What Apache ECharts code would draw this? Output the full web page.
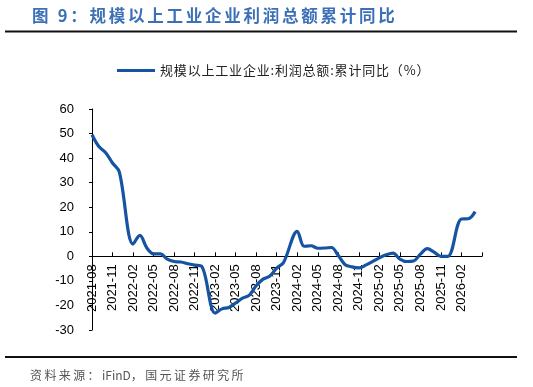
<!DOCTYPE html>
<html>
<head>
<meta charset="utf-8">
<script src="https://cdn.jsdelivr.net/npm/echarts@6/dist/echarts.min.js"></script>
<style>html,body{margin:0;padding:0;background:#fff;}#c{width:533px;height:387px;}</style>
</head>
<body>
<div id="c"></div>
<script>
var titleText = '图 9：规模以上工业企业利润总额累计同比';
var seriesName = '规模以上工业企业:利润总额:累计同比（%）';
var sourceText = '资料来源：iFinD，国元证券研究所';

var months = [
 '2021-08','2021-09','2021-10','2021-11','2021-12',
 '2022-01','2022-02','2022-03','2022-04','2022-05','2022-06','2022-07','2022-08','2022-09','2022-10','2022-11','2022-12',
 '2023-01','2023-02','2023-03','2023-04','2023-05','2023-06','2023-07','2023-08','2023-09','2023-10','2023-11','2023-12',
 '2024-01','2024-02','2024-03','2024-04','2024-05','2024-06','2024-07','2024-08','2024-09','2024-10','2024-11','2024-12',
 '2025-01','2025-02','2025-03','2025-04','2025-05','2025-06','2025-07','2025-08','2025-09','2025-10','2025-11','2025-12',
 '2026-01','2026-02','2026-03','2026-04','2026-05'
];

var profitYoY = [
 49.5, 44.7, 42.2, 38.0, 34.3,
 null, 5.0, 8.5, 3.5, 1.0, 1.0, -1.1, -2.1, -2.3, -3.0, -3.6, -4.0,
 null, -23.1, -21.4, -20.8, -19.0, -17.0, -15.8, -12.0, -9.3, -8.0, -4.8, -2.5,
 null, 10.2, 4.1, 4.3, 3.3, 3.4, 3.6, 0.3, -3.4, -4.3, -4.7, -3.6,
 null, -0.6, 0.6, 1.3, -1.1, -2.1, -1.9, 0.9, 3.1, 1.7, 0.0, 0.0,
 null, 15.2, 15.3, 18.2, null
];

var yTicks = { min: -30, max: 60, step: 10 };

var W = 533, H = 387;
var gridBox = { left: 92, right: 51, top: 109, bottom: 57 };
var gridH = H - gridBox.top - gridBox.bottom;
// place the category axis on the zero line of the value axis
var zeroOffset = -gridH * (0 - yTicks.min) / (yTicks.max - yTicks.min);

var chart = echarts.init(document.getElementById('c'), null, { renderer: 'canvas' });

function spaced(s, sp) { return s.split('').join(sp); }
function spacedCJK(s, sp) { return s.replace(/([\u3000-\uffff])(?=.)/g, '$1' + sp); }

var option = {
  backgroundColor: '#fff',
  animation: false,
  title: {
    text: spaced(titleText, '\u2006'),
    left: 32,
    top: 7,
    padding: 0,
    textStyle: { fontFamily: 'Noto Sans CJK SC', fontSize: 16.5, fontWeight: 'bold', color: '#3c70b6' }
  },
  legend: {
    left: 117,
    top: 64,
    padding: 0,
    icon: 'rect',
    itemWidth: 38,
    itemHeight: 3,
    textStyle: { fontFamily: 'Noto Sans CJK SC', fontSize: 13, color: '#222' },
    formatter: function (n) { return spaced(n, '\u200A'); },
    data: [seriesName]
  },
  grid: { left: gridBox.left, right: gridBox.right, top: gridBox.top, bottom: gridBox.bottom, containLabel: false },
  xAxis: {
    type: 'category',
    data: months,
    boundaryGap: false,
    offset: zeroOffset,
    axisLine: { onZero: false, lineStyle: { color: '#000', width: 1 } },
    axisTick: { show: true, inside: true, length: 4, interval: 2, lineStyle: { color: '#000' } },
    axisLabel: {
      rotate: 90,
      margin: 8,
      interval: function (i) { return i % 3 === 0 && i < months.length - 1; },
      fontFamily: 'Liberation Sans',
      fontSize: 13,
      color: '#000'
    },
    splitLine: { show: false }
  },
  yAxis: {
    type: 'value',
    min: yTicks.min,
    max: yTicks.max,
    interval: yTicks.step,
    axisLine: { show: true, onZero: false, lineStyle: { color: '#000', width: 1 } },
    axisTick: { show: true, inside: false, length: 3, lineStyle: { color: '#000' } },
    axisLabel: { margin: 18, fontFamily: 'Liberation Sans', fontSize: 13, color: '#000' },
    splitLine: { show: false }
  },
  series: [{
    name: seriesName,
    type: 'line',
    data: profitYoY,
    connectNulls: true,
    smooth: 0.35,
    symbol: 'none',
    lineStyle: { color: '#1553a3', width: 3.2 },
    itemStyle: { color: '#1553a3' }
  }],
  graphic: [
    { type: 'line', shape: { x1: 5, y1: 31.5, x2: 517, y2: 31.5 }, style: { stroke: '#111', lineWidth: 2 } },
    { type: 'line', shape: { x1: 5, y1: 357, x2: 517, y2: 357 }, style: { stroke: '#111', lineWidth: 2 } },
    { type: 'text', left: 30, top: 369, style: { text: spacedCJK(sourceText, '\u2009'), fontFamily: 'Noto Sans CJK SC', fontSize: 12, fill: '#555' } }
  ]
};
chart.setOption(option);
</script>
</body>
</html>
